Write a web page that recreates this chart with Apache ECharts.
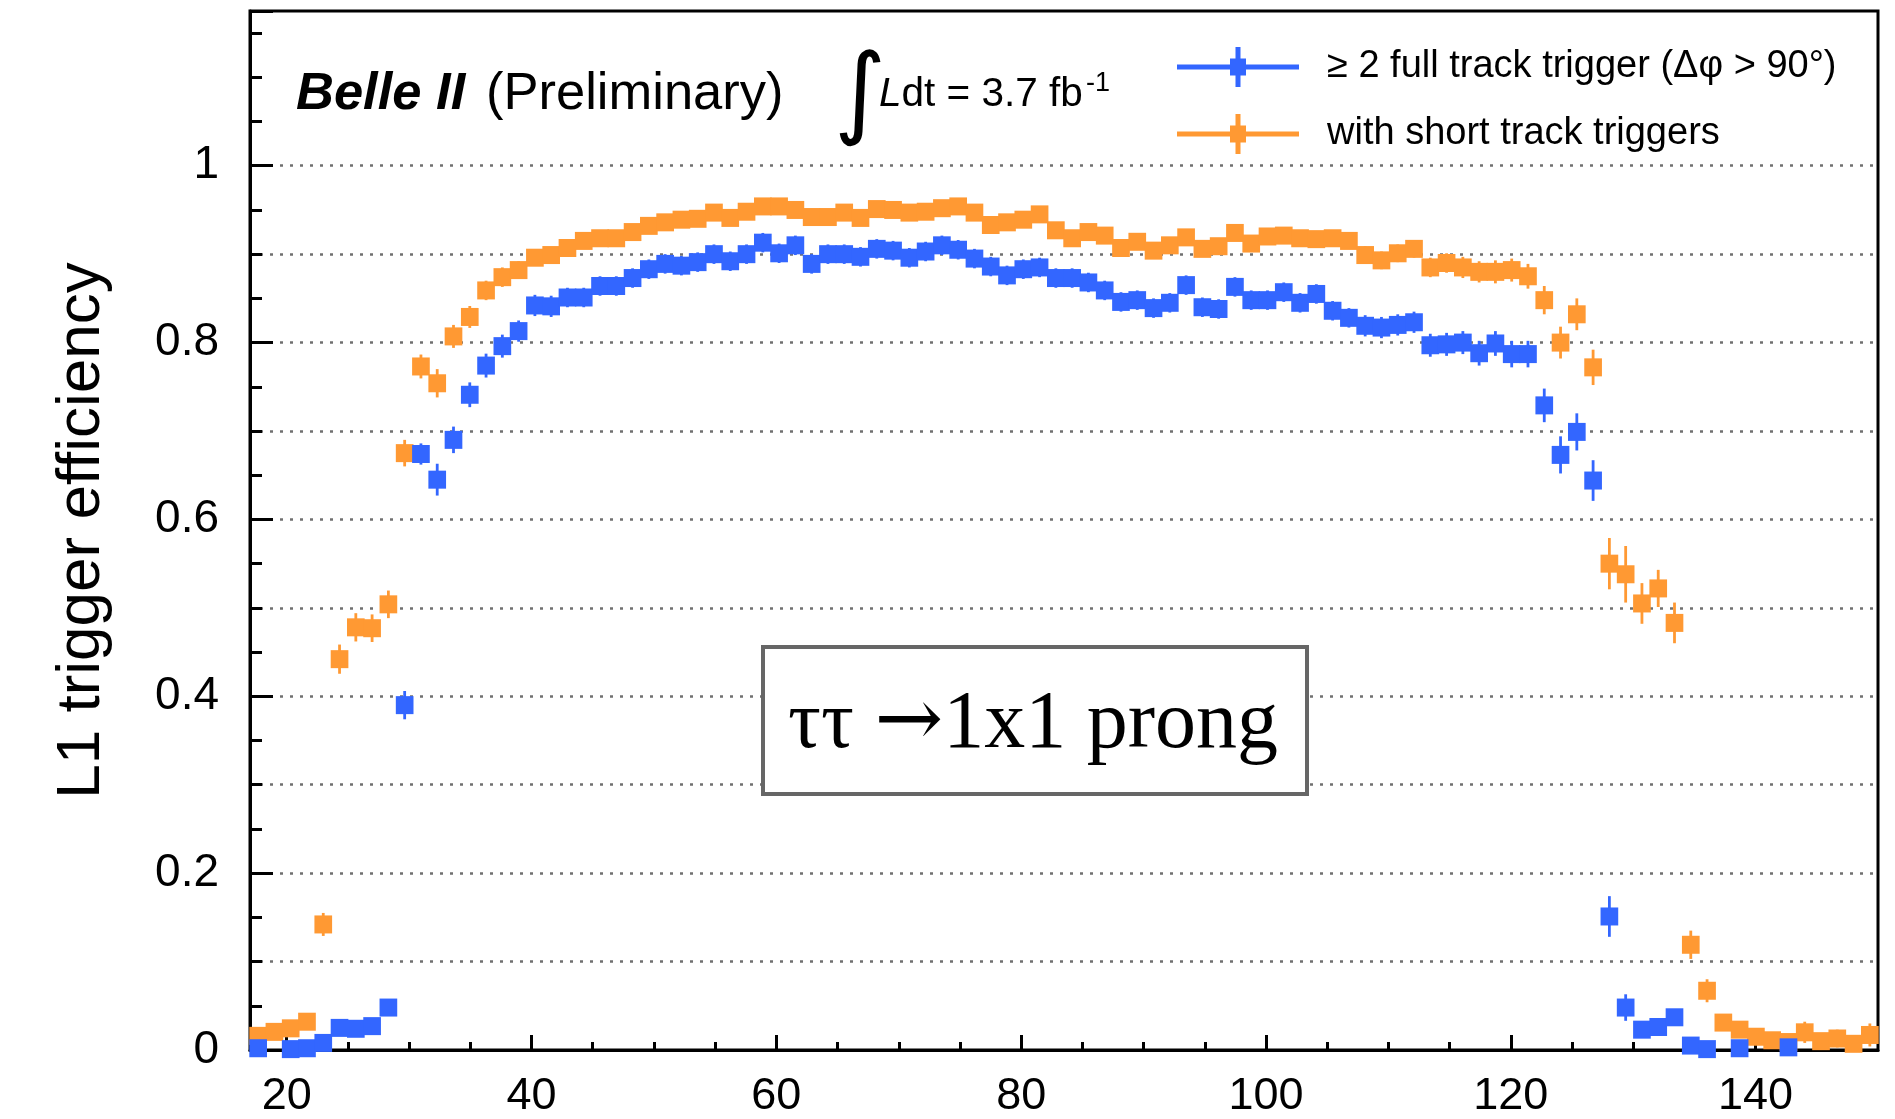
<!DOCTYPE html>
<html>
<head>
<meta charset="utf-8">
<title>L1 trigger efficiency</title>
<script src="https://cdn.jsdelivr.net/npm/echarts@6/dist/echarts.min.js"></script>
<style>
html, body { margin: 0; padding: 0; background: #fff; }
#chart { width: 1895px; height: 1119px; }
</style>
</head>
<body>
<div id="chart"></div>
<script>
// histogram: 100 bins from 17 to 150
var xMin = 17, xMax = 150, nBins = 100;
var binWidth = (xMax - xMin) / nBins;

// >= 2 full track trigger (blue), null = no point drawn
var fullTrack = [
	0.002, null, 0.001, 0.002, 0.008, 0.025, 0.024, 0.027, 0.048, 0.390,
	0.674, 0.645, 0.690, 0.741, 0.774, 0.796, 0.813, 0.842, 0.841, 0.851,
	0.851, 0.864, 0.864, 0.873, 0.883, 0.889, 0.887, 0.891, 0.900, 0.892,
	0.900, 0.913, 0.901, 0.910, 0.889, 0.900, 0.900, 0.897, 0.906, 0.904,
	0.896, 0.903, 0.910, 0.905, 0.895, 0.886, 0.876, 0.883, 0.885, 0.873,
	0.873, 0.868, 0.859, 0.846, 0.848, 0.839, 0.845, 0.865, 0.840, 0.838,
	0.863, 0.848, 0.848, 0.857, 0.845, 0.855, 0.836, 0.828, 0.819, 0.817,
	0.820, 0.823, 0.797, 0.798, 0.800, 0.788, 0.799, 0.787, 0.787, 0.729,
	0.673, 0.699, 0.644, 0.151, 0.048, 0.023, 0.026, 0.037, 0.005, 0.001,
	null, 0.002, null, null, 0.003, null, null, null, null, null
];
var fullTrackErr = [
	0.004, 0.004, 0.004, 0.004, 0.004, 0.005, 0.005, 0.005, 0.006, 0.016,
	0.012, 0.018, 0.015, 0.014, 0.0135, 0.013, 0.012, 0.012, 0.012, 0.011,
	0.011, 0.011, 0.011, 0.011, 0.011, 0.011, 0.011, 0.011, 0.011, 0.011,
	0.011, 0.011, 0.011, 0.011, 0.011, 0.011, 0.011, 0.011, 0.011, 0.011,
	0.011, 0.011, 0.011, 0.011, 0.011, 0.011, 0.011, 0.011, 0.011, 0.011,
	0.011, 0.011, 0.011, 0.011, 0.011, 0.011, 0.011, 0.011, 0.011, 0.011,
	0.011, 0.011, 0.011, 0.011, 0.011, 0.011, 0.011, 0.011, 0.012, 0.012,
	0.012, 0.012, 0.013, 0.013, 0.013, 0.014, 0.014, 0.015, 0.015, 0.019,
	0.021, 0.021, 0.023, 0.023, 0.015, 0.006, 0.006, 0.007, 0.004, 0.003,
	0.003, 0.003, 0.003, 0.003, 0.003, 0.003, 0.003, 0.003, 0.003, 0.003
];

// with short track triggers (orange)
var withShort = [
	0.016, 0.0205, 0.0245, 0.032, 0.142, 0.442, 0.478, 0.477, 0.504, 0.675,
	0.773, 0.754, 0.807, 0.829, 0.859, 0.874, 0.882, 0.896, 0.899, 0.907,
	0.915, 0.918, 0.918, 0.925, 0.932, 0.936, 0.939, 0.940, 0.947, 0.941,
	0.948, 0.954, 0.954, 0.950, 0.942, 0.942, 0.947, 0.941, 0.951, 0.950,
	0.947, 0.948, 0.952, 0.954, 0.947, 0.933, 0.936, 0.939, 0.945, 0.927,
	0.918, 0.925, 0.921, 0.907, 0.914, 0.904, 0.910, 0.919, 0.906, 0.909,
	0.924, 0.912, 0.920, 0.921, 0.918, 0.917, 0.918, 0.915, 0.899, 0.893,
	0.901, 0.906, 0.885, 0.890, 0.885, 0.880, 0.880, 0.882, 0.875, 0.848,
	0.800, 0.832, 0.772, 0.550, 0.538, 0.505, 0.522, 0.483, 0.119, 0.067,
	0.031, 0.023, 0.015, 0.011, 0.009, 0.020, 0.010, 0.013, 0.007, 0.017
];
var withShortErr = [
	0.004, 0.004, 0.005, 0.005, 0.013, 0.0165, 0.016, 0.0156, 0.0156, 0.015,
	0.0135, 0.016, 0.013, 0.0124, 0.011, 0.011, 0.010, 0.009, 0.009, 0.009,
	0.009, 0.009, 0.009, 0.009, 0.009, 0.009, 0.009, 0.009, 0.009, 0.009,
	0.009, 0.009, 0.009, 0.009, 0.009, 0.009, 0.009, 0.009, 0.009, 0.009,
	0.009, 0.009, 0.009, 0.009, 0.009, 0.009, 0.009, 0.009, 0.009, 0.009,
	0.009, 0.009, 0.009, 0.009, 0.009, 0.009, 0.009, 0.009, 0.009, 0.009,
	0.009, 0.009, 0.009, 0.009, 0.009, 0.009, 0.009, 0.009, 0.010, 0.010,
	0.010, 0.010, 0.011, 0.011, 0.012, 0.012, 0.013, 0.013, 0.014, 0.016,
	0.018, 0.018, 0.020, 0.029, 0.032, 0.023, 0.021, 0.023, 0.016, 0.013,
	0.006, 0.006, 0.006, 0.006, 0.006, 0.012, 0.006, 0.010, 0.006, 0.013
];

var seriesNames = ['\u2265 2 full track trigger (\u0394\u03c6 > 90\u00b0)', 'with short track triggers'];
var xMajorTicks = [20, 40, 60, 80, 100, 120, 140];
var xMinorTicks = [20, 25, 30, 35, 40, 45, 50, 55, 60, 65, 70, 75, 80, 85, 90, 95, 100, 105, 110, 115, 120, 125, 130, 135, 140, 145];
var yLabels = [0, 0.2, 0.4, 0.6, 0.8, 1];

var BLUE = '#3366ff';
var ORANGE = '#ff9933';
var FONT = '"Liberation Sans", Arial, Helvetica, sans-serif';
var SERIF = '"Liberation Serif", "Times New Roman", serif';

// pack bins into [x, y, err], skip empty bins
function makePoints(vals, errs) {
	var t = [];
	for (var i = 0; i < vals.length; i++) {
		if (vals[i] === null) continue;
		t.push([xMin + binWidth * (i + 0.5), vals[i], errs[i]]);
	}
	return t;
}

// error bar + square marker (bin wide)
function makeRender(color) {
	return function (params, api) {
		var x = api.value(0), y = api.value(1), e = api.value(2);
		var c = api.coord([x, y]);
		var hi = api.coord([x, y + e]);
		var lo = api.coord([x, y - e]);
		var w = api.size([binWidth, 0])[0] + 1.4;
		return {
			type: 'group',
			children: [{
				type: 'rect',
				shape: { x: c[0] - 1.4, y: hi[1], width: 2.8, height: lo[1] - hi[1] },
				style: { fill: color }
			}, {
				type: 'rect',
				shape: { x: c[0] - w / 2, y: c[1] - 9, width: w, height: 18 },
				style: { fill: color }
			}]
		};
	};
}

var legendIcon = 'path://M0,17.5h122v5H0z M58.5,0h5v40h-5z M53,11.5h16v17h-16z';

var myChart = echarts.init(document.getElementById('chart'), null, { renderer: 'canvas' });

function tickAxisY(interval, len) {
	return {
		type: 'value', min: 0, max: 1.175, interval: interval, position: 'left', offset: 0,
		axisLine: { show: false },
		axisTick: { show: true, inside: true, length: len, lineStyle: { color: '#000', width: 3 } },
		axisLabel: { show: false },
		splitLine: { show: false }
	};
}

var yMajor = tickAxisY(0.2, 23);
yMajor.axisLabel = {
	show: true, customValues: yLabels, margin: 31,
	fontFamily: FONT, fontSize: 46, color: '#000',
	formatter: function (v) { return (v === 0 || v === 1) ? String(v) : v.toFixed(1); }
};

var option = {
	backgroundColor: '#fff',
	animation: false,
	grid: {
		left: 250, right: 17, top: 11, bottom: 69,
		show: true, borderColor: '#000', borderWidth: 3, backgroundColor: 'transparent'
	},
	legend: {
		orient: 'vertical',
		left: 1177, top: 47,
		padding: 0,
		itemWidth: 122, itemHeight: 40, itemGap: 27,
		selectedMode: false,
		textStyle: { fontFamily: FONT, fontSize: 38, color: '#000', padding: [0, 0, 0, 23] },
		data: [
			{ name: seriesNames[0], icon: legendIcon, itemStyle: { color: BLUE } },
			{ name: seriesNames[1], icon: legendIcon, itemStyle: { color: ORANGE } }
		]
	},
	xAxis: [{
		type: 'value', min: xMin, max: xMax,
		axisLine: { show: true, lineStyle: { color: '#000', width: 3 } },
		axisTick: { show: true, inside: true, length: 15, customValues: xMajorTicks, lineStyle: { color: '#000', width: 3 } },
		axisLabel: { show: true, customValues: xMajorTicks, margin: 24, fontFamily: FONT, fontSize: 45, color: '#000' },
		splitLine: { show: false }
	}, {
		type: 'value', min: xMin, max: xMax, position: 'bottom',
		axisLine: { show: false },
		axisTick: { show: true, inside: true, length: 8, customValues: xMinorTicks, lineStyle: { color: '#000', width: 3 } },
		axisLabel: { show: false },
		splitLine: { show: false }
	}],
	yAxis: [{
		// data axis: frame line, dotted grid every 0.1, title
		type: 'value', min: 0, max: 1.175, interval: 0.1, position: 'left',
		name: 'L1 trigger efficiency',
		nameLocation: 'middle', nameRotate: 90, nameGap: 137,
		nameTextStyle: { fontFamily: FONT, fontSize: 62, color: '#000' },
		axisLine: { show: true, lineStyle: { color: '#000', width: 3 } },
		axisTick: { show: false },
		axisLabel: { show: false },
		splitLine: {
			show: true, showMinLine: false, showMaxLine: false,
			lineStyle: {
				color: ['#707070', '#707070', '#707070', '#707070', '#707070', '#707070', '#707070', '#707070', '#707070', '#707070', 'rgba(0,0,0,0)'],
				width: 2.5, type: [3, 7]
			}
		}
	}, yMajor, tickAxisY(0.05, 12)],
	graphic: [{
		type: 'text', x: 296, y: 95, z: 10,
		style: { text: 'Belle II', font: 'italic bold 52.5px ' + FONT, fill: '#000', textVerticalAlign: 'middle' }
	}, {
		type: 'text', x: 486, y: 95, z: 10,
		style: { text: '(Preliminary)', font: '52.5px ' + FONT, fill: '#000', textVerticalAlign: 'middle' }
	}, {
		type: 'text', x: 834, y: 99, z: 10,
		style: { text: '\u222b', font: 'italic 100px "DejaVu Sans", sans-serif', fill: '#000', textVerticalAlign: 'middle' }
	}, {
		type: 'text', x: 879, y: 95, z: 10,
		style: {
			text: '{i|L}dt = 3.7 fb', font: '40.5px ' + FONT, fill: '#000', textVerticalAlign: 'middle',
			rich: { i: { fontStyle: 'italic', fontSize: 40.5, fontFamily: FONT } }
		}
	}, {
		type: 'text', x: 1086, y: 84, z: 10,
		style: { text: '-1', font: '27px ' + FONT, fill: '#000', textVerticalAlign: 'middle' }
	}, {
		type: 'rect', z: 5,
		shape: { x: 763, y: 647, width: 544, height: 147 },
		style: { fill: '#fff', stroke: '#666', lineWidth: 4 }
	}, {
		type: 'text', x: 1033, y: 725, z: 6,
		style: {
			text: '\u03c4\u03c4 {a|\u2192}1x1 prong', font: '82px ' + SERIF, fill: '#000',
			textAlign: 'center', textVerticalAlign: 'middle',
			rich: { a: { fontSize: 82, fontFamily: '"DejaVu Serif", serif', fontWeight: 'normal' } }
		}
	}],
	series: [{
		name: seriesNames[0],
		type: 'custom',
		xAxisIndex: 0, yAxisIndex: 0,
		z: 4,
		itemStyle: { color: BLUE },
		renderItem: makeRender(BLUE),
		data: makePoints(fullTrack, fullTrackErr)
	}, {
		name: seriesNames[1],
		type: 'custom',
		xAxisIndex: 0, yAxisIndex: 0,
		z: 3,
		itemStyle: { color: ORANGE },
		renderItem: makeRender(ORANGE),
		data: makePoints(withShort, withShortErr)
	}]
};
myChart.setOption(option);
window.addEventListener('resize', function () {
	myChart.resize();
});
</script>
</body>
</html>
